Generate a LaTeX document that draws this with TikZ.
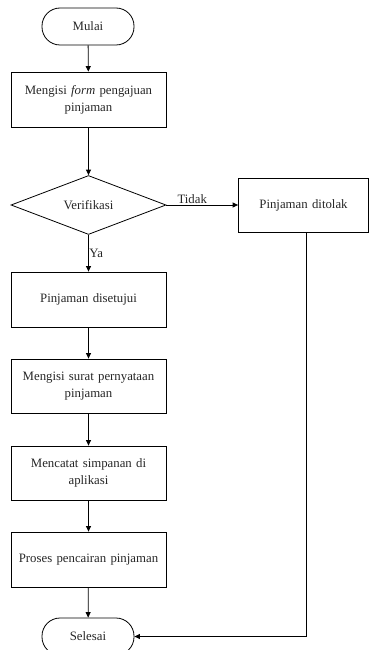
\documentclass[tikz,border=0pt]{standalone}
\usepackage{fontspec}
\setmainfont{Liberation Serif}
\usetikzlibrary{arrows.meta,shapes.geometric}
\begin{document}
\begin{tikzpicture}[x=1pt,y=-1pt,
  every node/.style={font=\fontsize{12.8}{16.8}\selectfont, text=black!85},
  proc/.style={draw, line width=0.8pt, inner sep=0pt, minimum width=155pt, minimum height=55pt, align=center, text width=148pt},
  term/.style={draw, line width=0.8pt, inner sep=0pt, minimum width=92pt, minimum height=37pt, rounded corners=18pt},
  decide/.style={draw, diamond, line width=0.8pt, inner sep=0pt, minimum width=155pt, minimum height=54pt},
  flow/.style={draw, line width=0.8pt, -{Triangle[width=5pt,length=5.5pt]}}
]
\useasboundingbox (0,0) rectangle (369,650);
\node[term] (start) at (88,26.5) {Mulai};
\node[proc] (form) at (88.5,99.5) {Mengisi \textit{form} pengajuan\\pinjaman};
\node[decide] (ver) at (88.5,205) {Verifikasi};
\node[proc, minimum width=130pt, minimum height=54pt, text width=125pt] (tolak) at (303.5,205) {Pinjaman ditolak};
\node[proc] (setuju) at (88.5,299.5) {Pinjaman disetujui};
\node[proc, minimum height=54pt] (surat) at (88.5,386) {Mengisi surat pernyataan\\pinjaman};
\node[proc, minimum height=54pt] (catat) at (88.5,473) {Mencatat simpanan di\\aplikasi};
\node[proc] (proses) at (88.5,559.5) {Proses pencairan pinjaman};
\node[term] (end) at (88,636.5) {Selesai};
\coordinate (corner) at (306,636.5);

\draw[flow] (start) -- (form);
\draw[flow] (form) -- (ver);
\draw[flow] (ver.east) -- node[above, pos=0.36, inner sep=0.5pt] (tidak) {Tidak} (tolak.west);
\draw[flow] (ver.south) -- node[right, pos=0.5, inner sep=0.5pt] (ya) {Ya} (setuju.north);
\draw[flow] (setuju) -- (surat);
\draw[flow] (surat) -- (catat);
\draw[flow] (catat) -- (proses);
\draw[flow] (proses) -- (end);
\draw[flow] (tolak.south -| corner) -- (corner) -- (end.east);
\end{tikzpicture}
\end{document}
